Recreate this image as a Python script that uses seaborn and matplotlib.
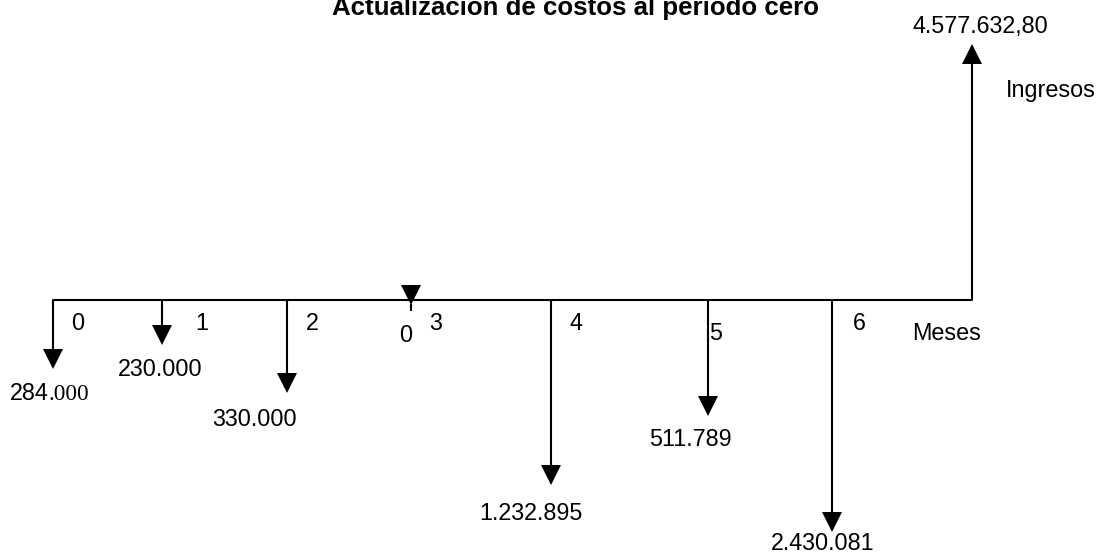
import matplotlib
matplotlib.use("Agg")
import matplotlib.pyplot as plt
from matplotlib.patches import Polygon
import matplotlib.transforms as mtrans
import seaborn as sns
import pandas as pd

# ---- data ----
periods = [0, 1, 2, 3, 4, 5, 6]
period_labels = ["0", "1", "2", "3", "4", "5", "6"]
costs = [284000, 230000, 330000, 0, 1232895, 511789, 2430081]
cost_labels = ["284", "230.000", "330.000", "0", "1.232.895", "511.789", "2.430.081"]
income = 4577632.80
income_label = "4.577.632,80"
title = "Actualización de costos al período cero"
axis_label = "Meses"
income_name = "Ingresos"

# ---- schematic layout (pixel canvas, diagram not to scale) ----
W, H = 1099, 554
base_y = 300
stem_x = [53, 162, 287, 411, 551, 708, 832]
tip_y = [369, 345, 393, 306, 485, 416, 532]
income_x, income_tip = 972, 44
head_w, head_l = 20, 20
per_lab_pos = [(78, 324), (202, 324), (312, 324), (436, 323), (576, 324), (716, 334), (859, 323)]
val_lab_pos = [(50, 394), (160, 370), (254, 419), (406, 336), (531, 513), (690, 440), (823, 543)]
FS = 16.8

sns.set_theme(style="white")
plt.rcParams['font.family'] = ['Liberation Sans', 'DejaVu Sans']

fig = plt.figure(figsize=(W / 100, H / 100), dpi=100)
ax = fig.add_axes([0, 0, 1, 1])
ax.set_xlim(0, W)
ax.set_ylim(H, 0)
ax.axis("off")

lw = 1.5
# time line
line_df = pd.DataFrame({"x": [stem_x[0], income_x], "y": [base_y, base_y]})
sns.lineplot(data=line_df, x="x", y="y", ax=ax, color="black", lw=lw, estimator=None)

def head(x, tip, down=True):
    hb = tip - head_l if down else tip + head_l
    pts = [(x - head_w / 2, hb), (x + head_w / 2, hb), (x, tip)]
    ax.add_patch(Polygon(pts, closed=True, color="black", lw=0))

for i, (p, c) in enumerate(zip(periods, costs)):
    x, t = stem_x[i], tip_y[i]
    if c == 0:
        # tiny marker arrow for a zero flow
        ax.plot([x, x], [t - 2, t + 5], color="black", lw=lw, solid_capstyle="butt")
        head(x, t - 1)
    else:
        ax.plot([x, x], [base_y, t - head_l + 1], color="black", lw=lw, solid_capstyle="butt")
        head(x, t)
    px, py = per_lab_pos[i]
    ax.text(px, py, period_labels[i], ha="center", va="center", fontsize=FS, color="black")

# cost value labels
for i, lab in enumerate(cost_labels):
    vx, vy = val_lab_pos[i]
    if i == 0:
        t1 = ax.text(10, vy, lab, ha="left", va="center", fontsize=FS, color="black")
        fig.canvas.draw()
        bb = t1.get_window_extent(renderer=fig.canvas.get_renderer())
        ax.text(bb.x1, vy + 1, ".000", ha="left", va="center", fontsize=FS,
                family="Liberation Serif", color="black",
                transform=mtrans.blended_transform_factory(mtrans.IdentityTransform(), ax.transData))
    else:
        ax.text(vx, vy, lab, ha="center", va="center", fontsize=FS, color="black")

# income arrow
ax.plot([income_x, income_x], [base_y, income_tip + head_l - 1], color="black", lw=lw, solid_capstyle="butt")
head(income_x, income_tip, down=False)
ax.text(980, 27, income_label, ha="center", va="center", fontsize=FS, color="black")
ax.text(1051, 91, income_name, ha="center", va="center", fontsize=FS, color="black")
ax.text(947, 334, axis_label, ha="center", va="center", fontsize=FS, color="black")

ax.text(575, 15, title, ha="center", va="baseline", fontsize=18.6, fontweight="bold", color="black")

fig.savefig("out.png", dpi=100)
